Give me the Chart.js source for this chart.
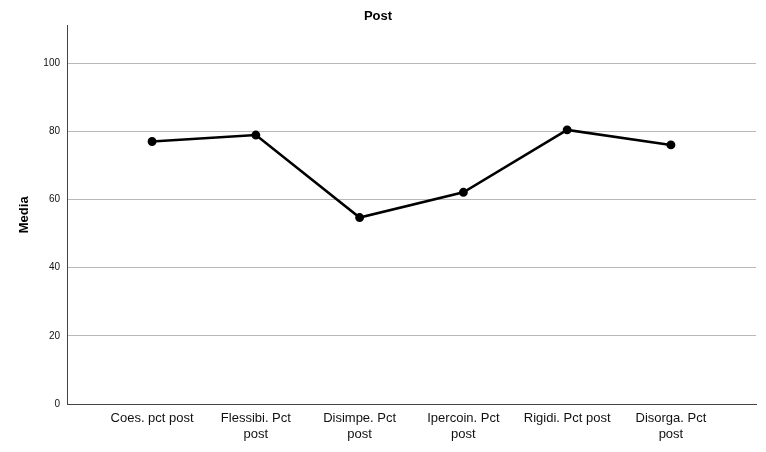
<!DOCTYPE html>
<html>
<head>
<meta charset="utf-8">
<script src="https://cdn.jsdelivr.net/npm/chart.js@4"></script>
<style>
  body { margin: 0; background: #fff; }
  #wrap { width: 766px; height: 452px; }
</style>
</head>
<body>
<div id="wrap"><canvas id="chart"></canvas></div>
<script>
// categories and means
const categories = [
    ["Coes. pct post"],
    ["Flessibi. Pct", "post"],
    ["Disimpe. Pct", "post"],
    ["Ipercoin. Pct", "post"],
    ["Rigidi. Pct post"],
    ["Disorga. Pct", "post"],
];
const means = [77.0, 78.9, 54.7, 62.1, 80.4, 76.0];
const yTicks = [0, 20, 40, 60, 80, 100];

const points = means.map((v, i) => ({ x: i, y: v }));

const ctx = document.getElementById("chart").getContext("2d");
new Chart(ctx, {
    type: "line",
    data: {
        datasets: [
            {
                data: points,
                borderColor: "#000",
                backgroundColor: "#000",
                borderWidth: 2.5,
                pointRadius: 3.2,
                pointHoverRadius: 3.2,
                fill: false,
                tension: 0,
            },
        ],
    },
    options: {
        responsive: true,
        maintainAspectRatio: false,
        animation: false,
        layout: { padding: { left: 0, right: 10, top: 0, bottom: 0 } },
        plugins: {
            legend: { display: false },
            tooltip: { enabled: false },
            title: {
                display: true,
                text: "Post",
                color: "#000",
                font: { family: "Liberation Sans", size: 13, weight: "bold" },
                padding: { top: 9, bottom: 1 },
            },
        },
        scales: {
            x: {
                type: "linear",
                min: -0.82,
                max: 5.82,
                afterBuildTicks: (scale) => {
                    scale.ticks = categories.map((_, i) => ({ value: i }));
                },
                afterFit: (scale) => { scale.height = 48; },
                grid: { display: false, drawTicks: false },
                border: { color: "#444", width: 1 },
                ticks: {
                    autoSkip: false,
                    maxRotation: 0,
                    padding: 7,
                    color: "#111",
                    font: { family: "Liberation Sans", size: 13 },
                    callback: (value) => categories[value],
                },
            },
            y: {
                min: 0,
                max: 111,
                afterBuildTicks: (scale) => {
                    scale.ticks = yTicks.map((v) => ({ value: v }));
                },
                afterFit: (scale) => { scale.width = 67; },
                grid: { color: "#b8b8b8", lineWidth: 1, drawTicks: false },
                border: { color: "#444", width: 1 },
                title: {
                    display: true,
                    text: "Media",
                    color: "#000",
                    font: { family: "Liberation Sans", size: 13, weight: "bold" },
                    padding: { top: 17, bottom: 0 },
                },
                ticks: {
                    padding: 7,
                    color: "#111",
                    font: { family: "Liberation Sans", size: 10 },
                },
            },
        },
    },
});
</script>
</body>
</html>
